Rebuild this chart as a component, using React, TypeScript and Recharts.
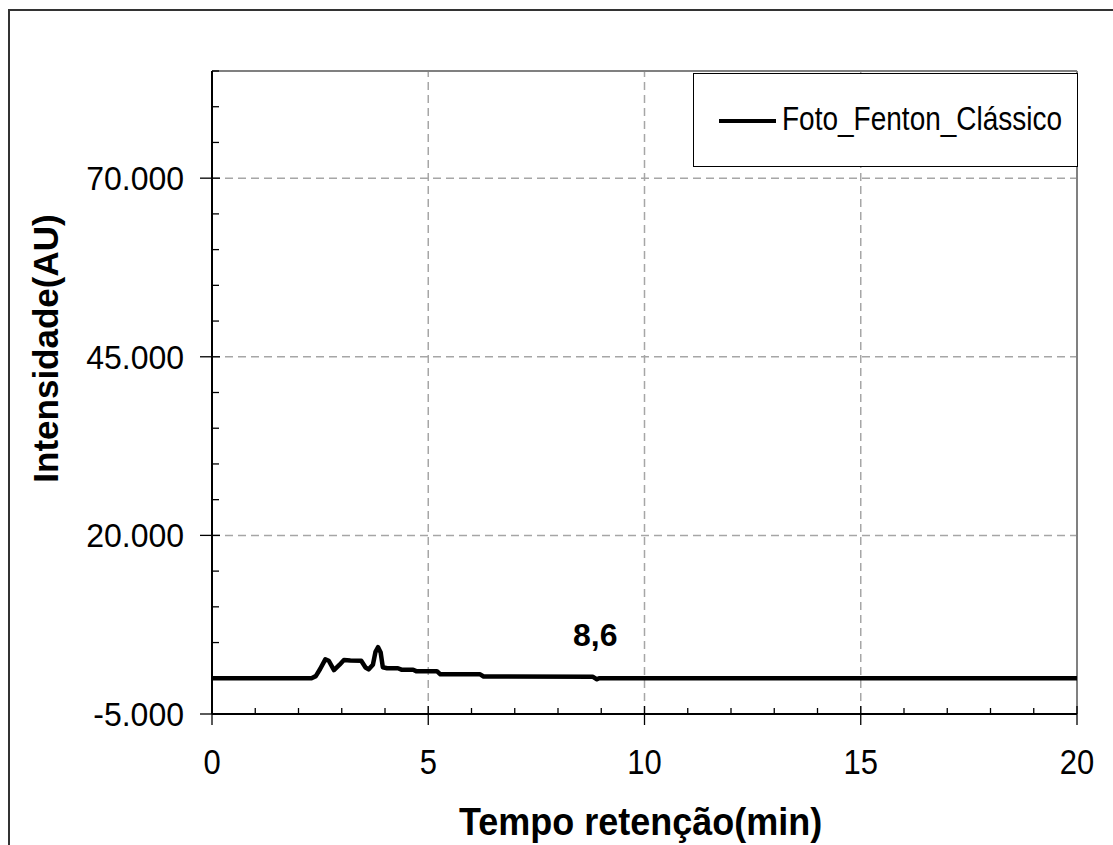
import React from "react";
import {
  LineChart,
  Line,
  XAxis,
  YAxis,
  ReferenceLine,
  ReferenceDot,
  Legend,
  Label,
} from "recharts";

// retention time (min) and detector intensity (AU)
const TEMPO = [
  0, 2.3, 2.4, 2.5, 2.62, 2.7, 2.82, 2.95, 3.05, 3.2, 3.45, 3.55, 3.62, 3.72,
  3.78, 3.84, 3.9, 3.95, 4.05, 4.3, 4.38, 4.65, 4.72, 5.2, 5.28, 6.2, 6.28,
  8.8, 8.9, 8.95, 20,
];
const INTENSIDADE = [
  0, 0, 300, 1300, 2650, 2450, 1150, 1900, 2550, 2500, 2450, 1500, 1250, 1900,
  3700, 4350, 3600, 1550, 1400, 1400, 1200, 1200, 1000, 1000, 550, 550, 250,
  230, -150, 0, 0,
];

const X_TICKS = [0, 1, 2, 3, 4, 5, 6, 7, 8, 9, 10, 11, 12, 13, 14, 15, 16, 17, 18, 19, 20];
const X_MAJOR = [0, 5, 10, 15, 20];
const Y_TICKS = [
  -5000, 0, 5000, 10000, 15000, 20000, 25000, 30000, 35000, 40000, 45000,
  50000, 55000, 60000, 65000, 70000, 75000, 80000, 85000,
];
const Y_MAJOR = [-5000, 20000, 45000, 70000];
const GRID_X = [5, 10, 15];
const GRID_Y = [20000, 45000, 70000];

const SERIES_NAME = "Foto_Fenton_Clássico";
const ANNOTATION = { x: 8.86, y: 6100, text: "8,6" };

const data = TEMPO.map((t, i) => ({ t, i: INTENSIDADE[i] }));

const FONT = '"Liberation Sans", Arial, sans-serif';

// "70.000" style thousands separator
const fmt = (v: number) => {
  const s = Math.abs(v).toString().replace(/\B(?=(\d{3})+(?!\d))/g, ".");
  return v < 0 ? `-${s}` : s;
};

const XTick = ({ x, y, payload }: any) => {
  const major = X_MAJOR.includes(payload.value);
  return (
    <g>
      <line
        x1={x}
        x2={x}
        y1={major ? y - 8 : y - 6}
        y2={major ? y + 11 : y}
        stroke="#000"
        strokeWidth={1.3}
      />
      {major && (
        <text
          transform={`translate(${x}, ${y + 48}) scale(1, 1.12)`}
          textAnchor="middle"
          dominantBaseline="central"
          fontSize={31}
          fill="#000"
        >
          {payload.value}
        </text>
      )}
    </g>
  );
};

const YTick = ({ x, y, payload }: any) => {
  const major = Y_MAJOR.includes(payload.value);
  return (
    <g>
      <line
        x1={major ? x - 12 : x}
        x2={major ? x + 8 : x + 7}
        y1={y}
        y2={y}
        stroke="#000"
        strokeWidth={1.3}
      />
      {major && (
        <text
          transform={`translate(${x - 28}, ${y}) scale(1, 1.05)`}
          textAnchor="end"
          dominantBaseline="central"
          fontSize={32}
          fill="#000"
        >
          {fmt(payload.value)}
        </text>
      )}
    </g>
  );
};

const renderLegend = () => (
  <div
    style={{
      width: 385,
      height: 94,
      boxSizing: "border-box",
      border: "1.5px solid #000",
      background: "#fff",
      position: "relative",
      fontFamily: FONT,
    }}
  >
    <svg width={60} height={10} style={{ position: "absolute", left: 24, top: 42 }}>
      <line x1={1} x2={58} y1={5} y2={5} stroke="#000" strokeWidth={4} />
    </svg>
    <span
      style={{
        position: "absolute",
        left: 88,
        top: 27,
        fontSize: 28,
        lineHeight: "36px",
        color: "#000",
        transform: "scaleY(1.2)",
        transformOrigin: "left center",
        whiteSpace: "nowrap",
      }}
    >
      {SERIES_NAME}
    </span>
  </div>
);

const renderYLabel = (props: any) => {
  const vb = props.viewBox;
  const cx = vb.x + 45;
  const cy = vb.y + vb.height / 2 - 44;
  return (
    <text
      x={cx}
      y={cy}
      transform={`rotate(-90, ${cx}, ${cy})`}
      textAnchor="middle"
      dominantBaseline="central"
      fontSize={35}
      fontWeight="bold"
      fill="#000"
    >
      Intensidade(AU)
    </text>
  );
};

const renderXLabel = (props: any) => {
  const vb = props.viewBox;
  const cx = vb.x + vb.width / 2 - 4;
  const cy = vb.y + 108;
  return (
    <text
      transform={`translate(${cx}, ${cy}) scale(1, 1.08)`}
      textAnchor="middle"
      dominantBaseline="central"
      fontSize={36}
      fontWeight="bold"
      fill="#000"
    >
      Tempo retenção(min)
    </text>
  );
};

export default function App() {
  return (
    <div
      style={{
        position: "absolute",
        left: 0,
        top: 0,
        width: 1113,
        height: 845,
        overflow: "hidden",
        background: "#fff",
        fontFamily: FONT,
      }}
    >
      <div
        style={{
          position: "absolute",
          left: 8,
          top: 9,
          width: 1200,
          height: 900,
          borderTop: "2px solid #333",
          borderLeft: "2px solid #333",
        }}
      />
      <div style={{ position: "absolute", left: 0, top: 0 }}>
        <LineChart width={1113} height={845} margin={{ top: 71, right: 36, bottom: 0, left: 0 }}>
          <XAxis
            type="number"
            dataKey="t"
            domain={[0, 20]}
            ticks={X_TICKS}
            interval={0}
            height={131}
            tickSize={0}
            tickMargin={0}
            tickLine={false}
            tick={<XTick />}
            axisLine={{ stroke: "#000", strokeWidth: 2 }}
            allowDataOverflow
          >
            <Label content={renderXLabel} />
          </XAxis>
          <YAxis
            type="number"
            domain={[-5000, 85000]}
            ticks={Y_TICKS}
            interval={0}
            width={212}
            tickSize={0}
            tickMargin={0}
            tickLine={false}
            tick={<YTick />}
            axisLine={{ stroke: "#000", strokeWidth: 2 }}
            allowDataOverflow
          >
            <Label content={renderYLabel} />
          </YAxis>
          {GRID_X.map((g) => (
            <ReferenceLine key={`gx${g}`} x={g} stroke="#a6a6a6" strokeWidth={1.5} strokeDasharray="8 5" />
          ))}
          {GRID_Y.map((g) => (
            <ReferenceLine key={`gy${g}`} y={g} stroke="#a6a6a6" strokeWidth={1.5} strokeDasharray="8 5" />
          ))}
          <ReferenceLine y={85000} stroke="#808080" strokeWidth={2} />
          <ReferenceLine x={20} stroke="#808080" strokeWidth={2} />
          <Legend
            layout="vertical"
            align="center"
            verticalAlign="middle"
            content={renderLegend}
            wrapperStyle={{ left: 693, top: 73, width: 385, height: 94 }}
          />
          <Line
            data={data}
            dataKey="i"
            name={SERIES_NAME}
            type="linear"
            stroke="#000"
            strokeWidth={4.5}
            strokeLinejoin="round"
            dot={false}
            activeDot={false}
            isAnimationActive={false}
          />
          <ReferenceDot x={ANNOTATION.x} y={ANNOTATION.y} r={0} stroke="none" fill="none">
            <Label value={ANNOTATION.text} position="center" fontSize={32} fontWeight="bold" fill="#000" />
          </ReferenceDot>
        </LineChart>
      </div>
    </div>
  );
}
